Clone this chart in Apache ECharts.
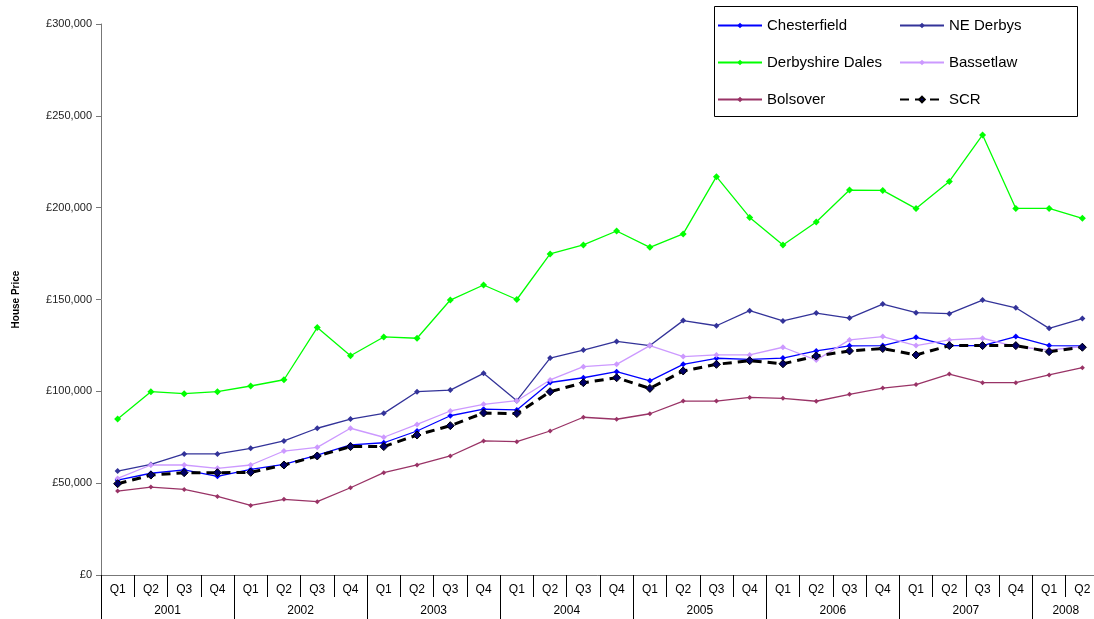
<!DOCTYPE html>
<html>
<head>
<meta charset="utf-8">
<script src="https://cdn.jsdelivr.net/npm/echarts@6/dist/echarts.min.js"></script>
<style>
  html, body { margin: 0; padding: 0; background: #fff; }
  #chart { width: 1094px; height: 619px; }
</style>
</head>
<body>
<div id="chart"></div>
<script>
// Quarterly average house prices, 2001 Q1 – 2008 Q2
const years = ['2001', '2002', '2003', '2004', '2005', '2006', '2007', '2008'];
const quarters = ['Q1', 'Q2', 'Q3', 'Q4'];
const quarterLabels = [];
years.forEach(function (y) {
  const n = y === '2008' ? 2 : 4;
  for (let i = 0; i < n; i++) quarterLabels.push(quarters[i]);
});

const chesterfield = [51700, 55400, 57200, 53700, 57500, 60200, 65300, 70800, 72000, 78400, 86700, 90300, 89900, 104800, 107400, 110700, 105700, 114700, 118000, 117400, 118100, 122000, 124800, 124900, 129400, 124900, 124900, 129800, 124900, 124700];
const neDerbys = [56600, 60200, 65900, 65900, 69000, 73000, 79900, 84900, 88000, 99800, 100700, 109800, 94900, 118100, 122500, 127200, 124900, 138500, 135700, 143900, 138300, 142600, 139900, 147500, 142800, 142300, 149700, 145500, 134300, 139600];
const derbyshireDales = [84900, 99800, 98700, 99800, 102900, 106300, 134700, 119400, 129600, 128900, 149700, 157900, 150000, 174800, 179700, 187300, 178400, 185700, 216900, 194700, 179700, 192200, 209600, 209400, 199500, 214300, 239600, 199600, 199600, 194200];
const bassetlaw = [52600, 59900, 59900, 58100, 59900, 67500, 69500, 79900, 75000, 82000, 89300, 92900, 94900, 106200, 113400, 114700, 124900, 118900, 119800, 119800, 124000, 117000, 128000, 129800, 124900, 128000, 128900, 124300, 122500, 124300];
const bolsover = [45700, 47900, 46600, 42800, 37900, 41200, 39900, 47500, 55700, 59900, 64800, 73000, 72600, 78400, 85900, 84800, 87800, 94700, 94700, 96700, 96200, 94600, 98400, 101800, 103700, 109400, 104700, 104700, 108900, 112900];
const scr = [49700, 54400, 55700, 55700, 55900, 59900, 64800, 69900, 69900, 76200, 81300, 88200, 87900, 99800, 104700, 107400, 101600, 111100, 114700, 116700, 115000, 119200, 122000, 123300, 119800, 124900, 124900, 124900, 121600, 124000];

// Year row: boundary slots (one more than quarters), with each year name placed at the middle of its span
const yearSlots = new Array(quarterLabels.length + 1).fill('');
const yearEdges = [0];
(function () {
  let start = 0;
  years.forEach(function (y) {
    const n = y === '2008' ? 2 : 4;
    yearSlots[start + n / 2] = y;
    start += n;
    yearEdges.push(start);
  });
})();

const FONT = '"Liberation Sans", Arial, sans-serif';

function money(v) {
  return '£' + String(v).replace(/\B(?=(\d{3})+(?!\d))/g, ',');
}

function lineSeries(name, data, color, symbolSize, extra) {
  const s = {
    name: name,
    type: 'line',
    data: data,
    xAxisIndex: 0,
    symbol: 'diamond',
    symbolSize: symbolSize,
    showSymbol: true,
    lineStyle: { color: color, width: 1.3 },
    itemStyle: { color: color },
    emphasis: { disabled: true },
    animation: false
  };
  return Object.assign(s, extra || {});
}

const chart = echarts.init(document.getElementById('chart'), null, { renderer: 'canvas' });

const legendCommon = {
  orient: 'vertical',
  top: 13,
  itemWidth: 44,
  itemHeight: 7,
  itemGap: 22,
  textStyle: { fontFamily: FONT, fontSize: 15, color: '#000' },
  selectedMode: false
};

chart.setOption({
  backgroundColor: '#ffffff',
  animation: false,
  grid: { left: 101, top: 24, width: 998, height: 551, containLabel: false, outerBoundsMode: 'none' },
  legend: [
    Object.assign({ data: ['Chesterfield', 'Derbyshire Dales', 'Bolsover'], left: 712 }, legendCommon),
    Object.assign({ data: ['NE Derbys', 'Bassetlaw', 'SCR'], left: 894 }, legendCommon)
  ],
  graphic: [
    {
      type: 'rect',
      shape: { x: 714.5, y: 6.5, width: 363, height: 110 },
      style: { fill: 'rgba(0,0,0,0)', stroke: '#000', lineWidth: 1 },
      silent: true,
      z: 100
    }
  ],
  xAxis: [
    {
      type: 'category',
      data: quarterLabels,
      boundaryGap: true,
      position: 'bottom',
      axisLine: { show: true, lineStyle: { color: '#777', width: 1 } },
      axisTick: { show: true, length: 22, lineStyle: { color: '#000', width: 1 } },
      axisLabel: { interval: 0, margin: 9, fontFamily: FONT, fontSize: 12, color: '#000' },
      splitLine: { show: false }
    },
    {
      type: 'category',
      data: yearSlots,
      boundaryGap: false,
      position: 'bottom',
      axisLine: { show: false },
      axisTick: {
        show: true,
        length: 46,
        interval: function (index) { return yearEdges.indexOf(index) !== -1; },
        lineStyle: { color: '#000', width: 1 }
      },
      axisLabel: { interval: 0, margin: 30, fontFamily: FONT, fontSize: 12, color: '#000' },
      splitLine: { show: false }
    }
  ],
  yAxis: {
    type: 'value',
    min: 0,
    max: 300000,
    interval: 50000,
    name: 'House Price',
    nameLocation: 'middle',
    nameGap: 80,
    nameRotate: 90,
    nameTextStyle: { fontFamily: FONT, fontSize: 10, fontWeight: 'bold', color: '#000' },
    axisLine: { show: true, lineStyle: { color: '#777', width: 1 } },
    axisTick: { show: true, length: 5, lineStyle: { color: '#777' } },
    axisLabel: { formatter: money, margin: 9, fontFamily: FONT, fontSize: 11, color: '#222' },
    splitLine: { show: false }
  },
  series: [
    lineSeries('Chesterfield', chesterfield, '#0000ff', 6),
    lineSeries('NE Derbys', neDerbys, '#333399', 6),
    lineSeries('Derbyshire Dales', derbyshireDales, '#00ff00', 7),
    lineSeries('Bassetlaw', bassetlaw, '#cc99ff', 6),
    lineSeries('Bolsover', bolsover, '#993366', 5),
    lineSeries('SCR', scr, '#000000', 8, {
      lineStyle: { color: '#000000', width: 3, type: [9, 6] },
      itemStyle: { color: '#000066', borderColor: '#000000', borderWidth: 1 }
    })
  ]
});
</script>
</body>
</html>
